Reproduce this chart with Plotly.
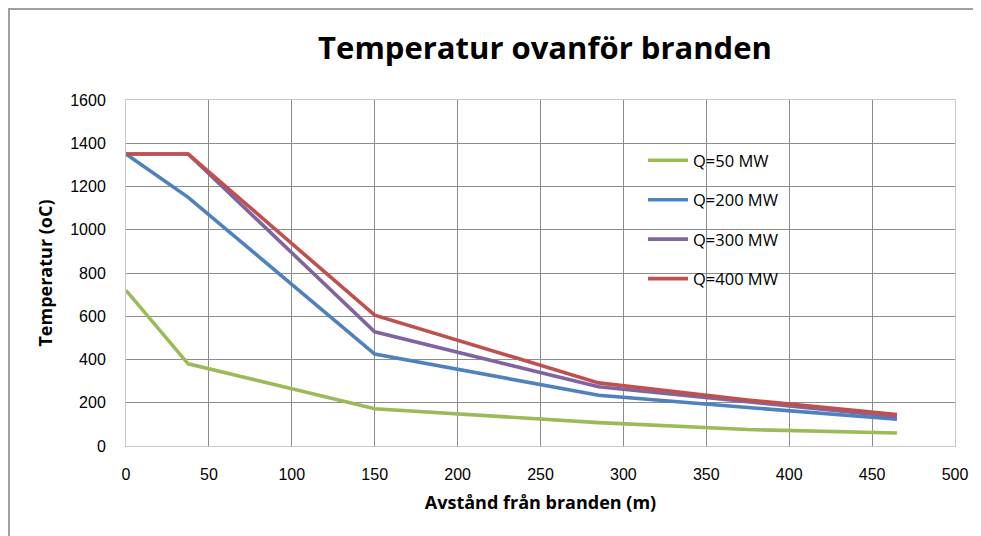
import plotly.graph_objects as go

# ── Data ──────────────────────────────────────────────────────────────────────
DIST = [0, 37.5, 150, 285, 375, 465]

Q50 = [720, 380, 172, 108, 76, 60]
Q200 = [1350, 1150, 425, 235, 178, 124]
Q300 = [1350, 1350, 528, 274, 205, 135]
Q400 = [1350, 1350, 605, 292, 213, 145]

SERIES = [
    ("Q=50 MW", Q50, "#9BBB59"),
    ("Q=200 MW", Q200, "#4F81BD"),
    ("Q=300 MW", Q300, "#8064A2"),
    ("Q=400 MW", Q400, "#C0504D"),
]

X_TICKS = list(range(0, 501, 50))
Y_TICKS = list(range(0, 1601, 200))

# ── Geometry (page px; the page body adds an 8px offset) ─────────────────────
OFF = 8
W, H = 981 - OFF, 536 - OFF
L, R, T, B = 126 - OFF, 955 - OFF, 100 - OFF, 446 - OFF
PW, PH = R - L, B - T


def px(x):
    return (x - OFF - L) / PW


def py(y):
    return (B - (y - OFF)) / PH


TICK_FONT = dict(family="Liberation Sans, Arial", size=16, color="#000")
BOLD_FONT = "Open Sans"

fig = go.Figure()

for i, (name, vals, colour) in enumerate(SERIES):
    fig.add_trace(go.Scatter(
        x=DIST, y=vals, mode="lines", name=name,
        line=dict(color=colour, width=3.6),
        legendgroup=f"g{i}",
    ))

fig.update_xaxes(
    range=[0, 500], tickvals=X_TICKS, tickfont=TICK_FONT,
    showgrid=True, gridcolor="#8c8c8c", gridwidth=1,
    zeroline=False, showline=True, linecolor="#c8c8c8", mirror=True,
    ticks="", ticklabelstandoff=14,
    title=dict(text="<b>Avstånd från branden (m)</b>",
               font=dict(family=BOLD_FONT, size=18, color="#000"), standoff=14),
)
fig.update_yaxes(
    range=[0, 1600], tickvals=Y_TICKS, tickfont=TICK_FONT,
    showgrid=True, gridcolor="#8c8c8c", gridwidth=1,
    zeroline=False, showline=True, linecolor="#c8c8c8", mirror=True,
    ticks="", ticklabelstandoff=16,
    title=dict(text="<b>Temperatur (oC)</b>",
               font=dict(family=BOLD_FONT, size=18, color="#000"), standoff=12),
)

# outer chart frame (left and top edges visible)
fig.add_shape(type="rect", xref="paper", yref="paper",
              x0=px(OFF + 1), y0=py(560), x1=px(1000), y1=py(OFF + 1),
              line=dict(color="#a0a0a0", width=2), layer="below")

fig.update_layout(
    width=W, height=H,
    margin=dict(l=L, r=W - R, t=T, b=H - B),
    paper_bgcolor="white", plot_bgcolor="white",
    title=dict(text="<b>Temperatur ovanför branden</b>",
               font=dict(family=BOLD_FONT, size=31, color="#000"),
               x=(545 - OFF) / W, xanchor="center", y=1 - (48 - OFF) / H, yanchor="middle"),
    legend=dict(x=px(643), y=py(143), xanchor="left", yanchor="top",
                bgcolor="rgba(0,0,0,0)", tracegroupgap=15,
                font=dict(family="Open Sans", size=16.5, color="#000"),
                itemwidth=40),
    showlegend=True,
)

fig.write_html("out.html")
